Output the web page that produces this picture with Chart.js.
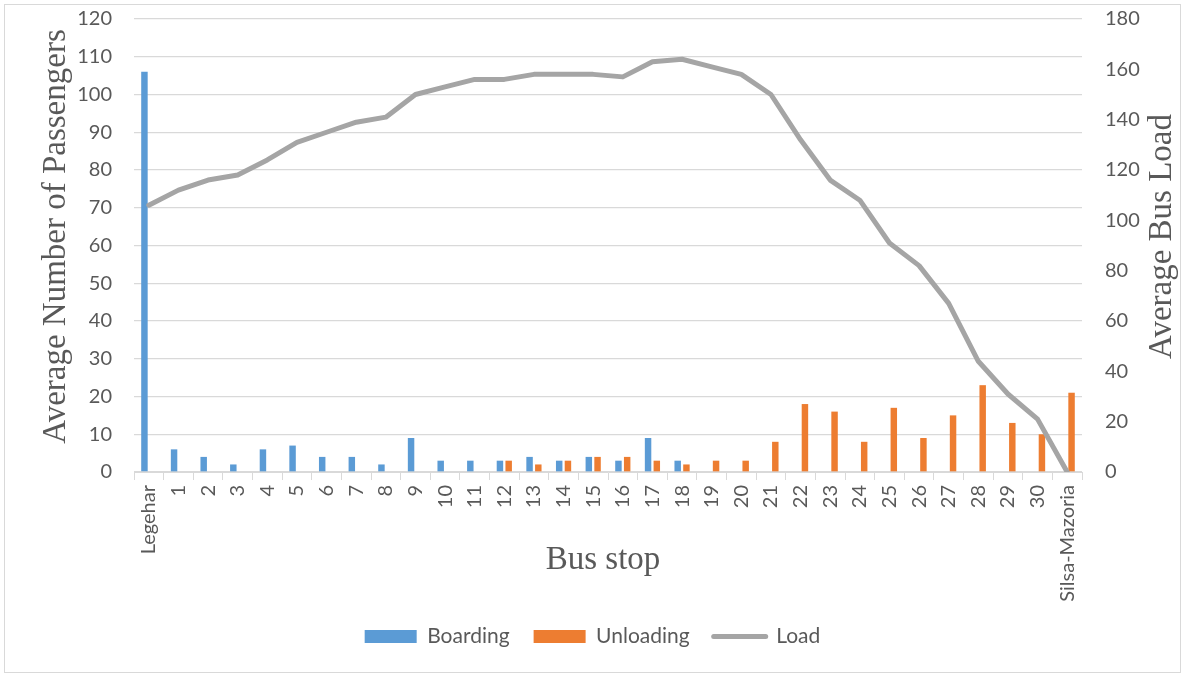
<!DOCTYPE html>
<html>
<head>
<meta charset="utf-8">
<script src="https://cdn.jsdelivr.net/npm/chart.js@4.4.1/dist/chart.umd.min.js"></script>
<style>
  html, body { margin: 0; padding: 0; background: #fff; }
  #wrap { position: relative; width: 1185px; height: 677px; }
</style>
</head>
<body>
<div id="wrap"><canvas id="chart" width="1185" height="677"></canvas></div>
<script>
// Bus stops along the route
const stops = ['Legehar', '1', '2', '3', '4', '5', '6', '7', '8', '9', '10',
  '11', '12', '13', '14', '15', '16', '17', '18', '19', '20',
  '21', '22', '23', '24', '25', '26', '27', '28', '29', '30', 'Silsa-Mazoria'];

// Average passengers boarding at each stop
const boarding = [106, 6, 4, 2, 6, 7, 4, 4, 2, 9, 3, 3, 3, 4, 3, 4, 3, 9, 3, 0,
  0, 0, 0, 0, 0, 0, 0, 0, 0, 0, 0, 0];

// Average passengers alighting at each stop
const unloading = [0, 0, 0, 0, 0, 0, 0, 0, 0, 0, 0, 0, 3, 2, 3, 4, 4, 3, 2, 3,
  3, 8, 18, 16, 8, 17, 9, 15, 23, 13, 10, 21];

// Average on-board load after each stop
const load = [106, 112, 116, 118, 124, 131, 135, 139, 141, 150, 153, 156, 156, 158, 158, 158,
  157, 163, 164, 161, 158, 150, 132, 116, 108, 91, 82, 67, 44, 31, 21, 0];

// Axis ranges
const passengerAxis = { min: 0, max: 120, step: 10 };
const loadAxis = { min: 0, max: 180, step: 20 };

const TEXT = '#595959';
const GRID = '#d9d9d9';
const TICK_FONT = { family: 'Lato', size: 20 };
const TITLE_FONT = '33px "Liberation Serif"';

// Frame around the chart plus the three axis titles
const framePlugin = {
  id: 'frame',
  beforeDraw(chart) {
    const ctx = chart.ctx;
    ctx.save();
    ctx.fillStyle = '#fff';
    ctx.fillRect(0, 0, chart.width, chart.height);
    ctx.strokeStyle = GRID;
    ctx.lineWidth = 1;
    ctx.strokeRect(4.5, 4.5, 1176, 668);
    ctx.restore();
  },
  afterDraw(chart) {
    const ctx = chart.ctx;
    const a = chart.chartArea;
    const midY = (a.top + a.bottom) / 2 - 9;
    ctx.save();
    ctx.font = TITLE_FONT;
    ctx.fillStyle = TEXT;
    ctx.textAlign = 'center';
    ctx.textBaseline = 'middle';

    ctx.save();
    ctx.translate(a.left - 78, midY);
    ctx.rotate(-Math.PI / 2);
    ctx.fillText('Average Number of Passengers', 0, 0);
    ctx.restore();

    ctx.save();
    ctx.translate(a.right + 80, midY);
    ctx.rotate(-Math.PI / 2);
    ctx.fillText('Average Bus Load', 0, 0);
    ctx.restore();

    ctx.fillText('Bus stop', (a.left + a.right) / 2 - 5, 560);
    ctx.restore();
  }
};

const PAD_BOTTOM = 20;
const PLOT_TOP = 19;
const PLOT_LEFT = 134;
const PLOT_RIGHT = 1082;
const PLOT_BOTTOM = 472;

// Fix a value axis to a set width and drop the extra label padding above/below
function fixValueAxis(width) {
  return function (scale) {
    scale.width = width;
    scale.paddingTop = 0;
    scale.paddingBottom = 0;
  };
}

new Chart(document.getElementById('chart'), {
  type: 'bar',
  data: {
    labels: stops,
    datasets: [
      {
        label: 'Boarding',
        data: boarding,
        backgroundColor: '#5B9BD5',
        borderWidth: 0,
        yAxisID: 'y',
        order: 1,
        categoryPercentage: 0.59,
        barPercentage: 0.74
      },
      {
        label: 'Unloading',
        data: unloading,
        backgroundColor: '#ED7D31',
        borderWidth: 0,
        yAxisID: 'y',
        order: 1,
        categoryPercentage: 0.59,
        barPercentage: 0.74
      },
      {
        type: 'line',
        label: 'Load',
        data: load,
        borderColor: '#A5A5A5',
        backgroundColor: '#A5A5A5',
        borderWidth: 5,
        pointRadius: 0,
        tension: 0,
        borderCapStyle: 'round',
        borderJoinStyle: 'round',
        yAxisID: 'y1',
        order: 0
      }
    ]
  },
  options: {
    responsive: false,
    animation: false,
    devicePixelRatio: 1,
    layout: { padding: { top: PLOT_TOP, bottom: PAD_BOTTOM, left: 0, right: 0 } },
    plugins: {
      tooltip: { enabled: false },
      legend: {
        position: 'bottom',
        labels: {
          font: { family: 'Lato', size: 21 },
          color: TEXT,
          usePointStyle: true,
          pointStyleWidth: 52,
          boxHeight: 13,
          padding: 24,
          sort: (a, b) => a.datasetIndex - b.datasetIndex,
          generateLabels(chart) {
            return chart.data.datasets.map((ds, i) => {
              const isLine = ds.type === 'line';
              return {
                text: ds.label,
                datasetIndex: i,
                fillStyle: ds.backgroundColor,
                strokeStyle: isLine ? ds.borderColor : ds.backgroundColor,
                lineWidth: isLine ? 5 : 0,
                lineCap: 'round',
                pointStyle: isLine ? 'line' : 'rect',
                fontColor: TEXT,
                hidden: false
              };
            });
          }
        }
      }
    },
    scales: {
      x: {
        offset: true,
        grid: {
          display: true,
          offset: true,
          drawOnChartArea: false,
          color: GRID,
          tickLength: 8
        },
        border: { display: true, color: GRID },
        ticks: {
          color: TEXT,
          font: TICK_FONT,
          autoSkip: false,
          minRotation: 90,
          maxRotation: 90,
          padding: 5
        },
        afterFit(scale) {
          const legendH = scale.chart.legend ? scale.chart.legend.height : 0;
          scale.height = scale.chart.height - PAD_BOTTOM - legendH - PLOT_BOTTOM;
        }
      },
      y: {
        position: 'left',
        min: passengerAxis.min,
        max: passengerAxis.max,
        grid: { color: GRID, lineWidth: 1.3, drawTicks: false },
        border: { display: false },
        ticks: {
          stepSize: passengerAxis.step,
          color: TEXT,
          font: TICK_FONT,
          padding: 22
        },
        afterFit: fixValueAxis(PLOT_LEFT)
      },
      y1: {
        position: 'right',
        min: loadAxis.min,
        max: loadAxis.max,
        grid: { display: false, drawTicks: false },
        border: { display: false },
        ticks: {
          stepSize: loadAxis.step,
          color: TEXT,
          font: TICK_FONT,
          padding: 23
        },
        afterFit: fixValueAxis(1185 - PLOT_RIGHT)
      }
    }
  },
  plugins: [framePlugin]
});
</script>
</body>
</html>
